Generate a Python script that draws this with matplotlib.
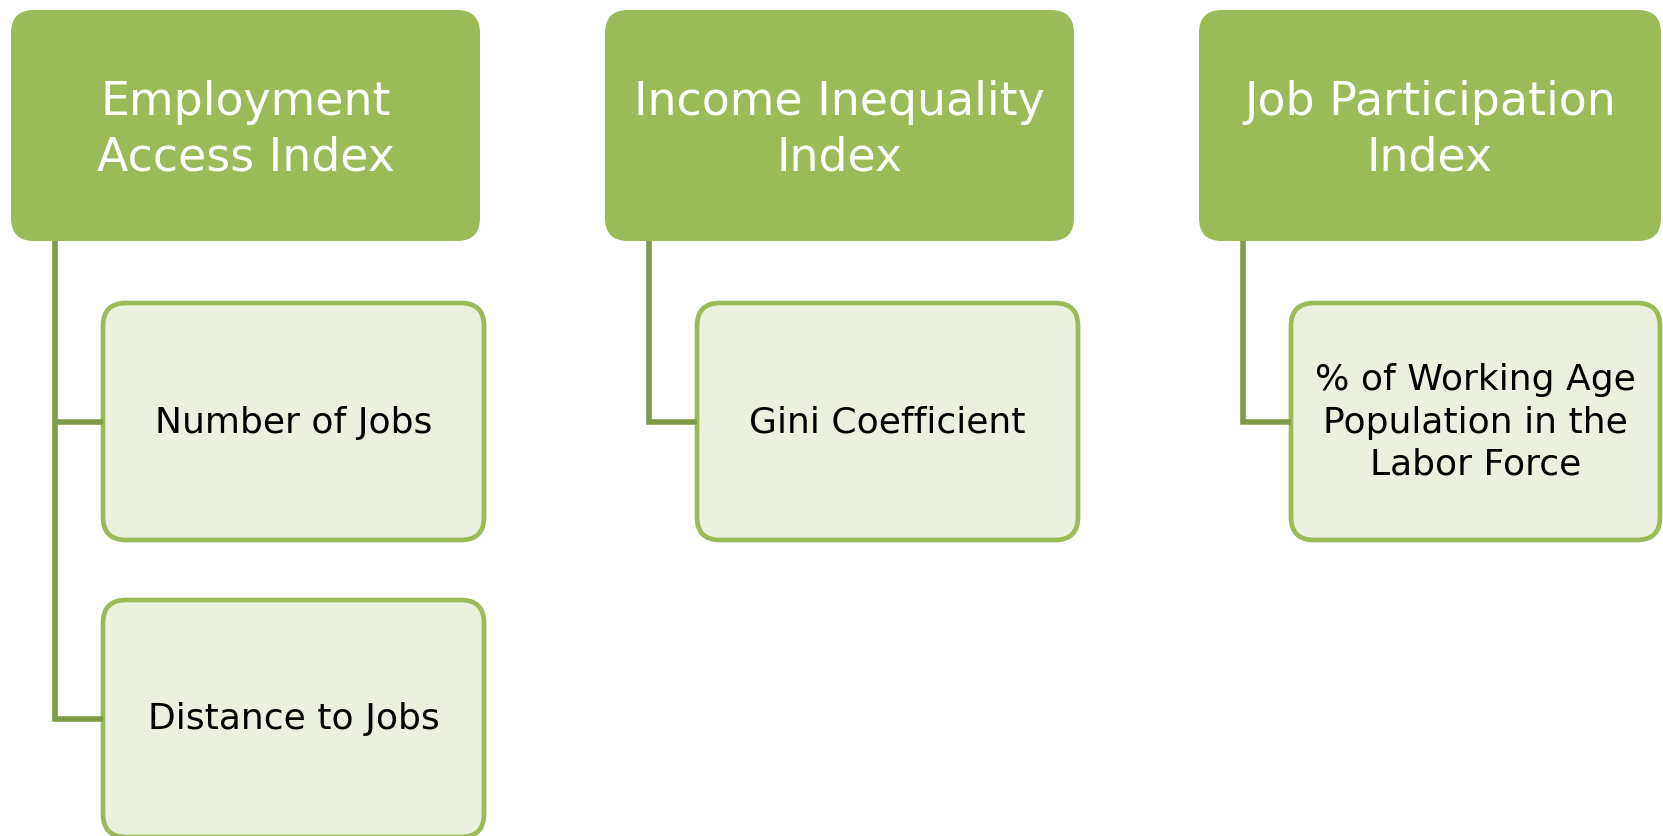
import matplotlib
matplotlib.use("Agg")
import matplotlib.pyplot as plt
from matplotlib.patches import FancyBboxPatch

# diagram content
parents = ["Employment\nAccess Index", "Income Inequality\nIndex", "Job Participation\nIndex"]
children = [
    ["Number of Jobs", "Distance to Jobs"],
    ["Gini Coefficient"],
    ["% of Working Age\nPopulation in the\nLabor Force"],
]

W, H = 1663, 837
dark = "#9BBB59"
light = "#EBF1DE"
line_col = "#7F9A48"

fig = plt.figure(figsize=(W / 100, H / 100), dpi=100)
ax = fig.add_axes([0, 0, 1, 1])
ax.set_xlim(0, W)
ax.set_ylim(H, 0)
ax.axis("off")

col_x0, col_step = 11, 594
pw, ph, py = 469, 231, 11
cw, ch, cy0, cstep = 381, 237, 304, 297
cx_off, line_off = 92, 44
pad = 23

for i, (p, kids) in enumerate(zip(parents, children)):
    x = col_x0 + i * col_step
    w = min(pw, W - x - 2)
    ax.add_patch(FancyBboxPatch((x + pad, py + pad), w - 2 * pad, ph - 2 * pad,
                                boxstyle="round,pad=%d" % pad, fc=dark, ec=dark, lw=0))
    ax.text(x + w / 2, py + ph / 2 + 4, p, ha="center", va="center", color="white",
            fontsize=33, linespacing=1.3, family="DejaVu Sans")

    lx = x + line_off
    kx = x + cx_off
    kw = min(cw, W - kx - 3)
    ys = [cy0 + j * cstep + ch / 2 for j in range(len(kids))]
    ax.plot([lx, lx, kx], [py + ph, ys[-1], ys[-1]], color=line_col, lw=4.0,
            solid_joinstyle="miter", solid_capstyle="butt")
    for yc in ys[:-1]:
        ax.plot([lx, kx], [yc, yc], color=line_col, lw=4.0, solid_capstyle="butt")

    for j, k in enumerate(kids):
        ky = cy0 + j * cstep
        ax.add_patch(FancyBboxPatch((kx + pad, ky + pad), kw - 2 * pad, ch - 2 * pad,
                                    boxstyle="round,pad=%d" % pad, fc=light, ec=dark, lw=3.4))
        ax.text(kx + kw / 2, ky + ch / 2, k, ha="center", va="center", color="black",
                fontsize=26, linespacing=1.3, family="DejaVu Sans")

fig.savefig("out.png", dpi=100, facecolor="white")
